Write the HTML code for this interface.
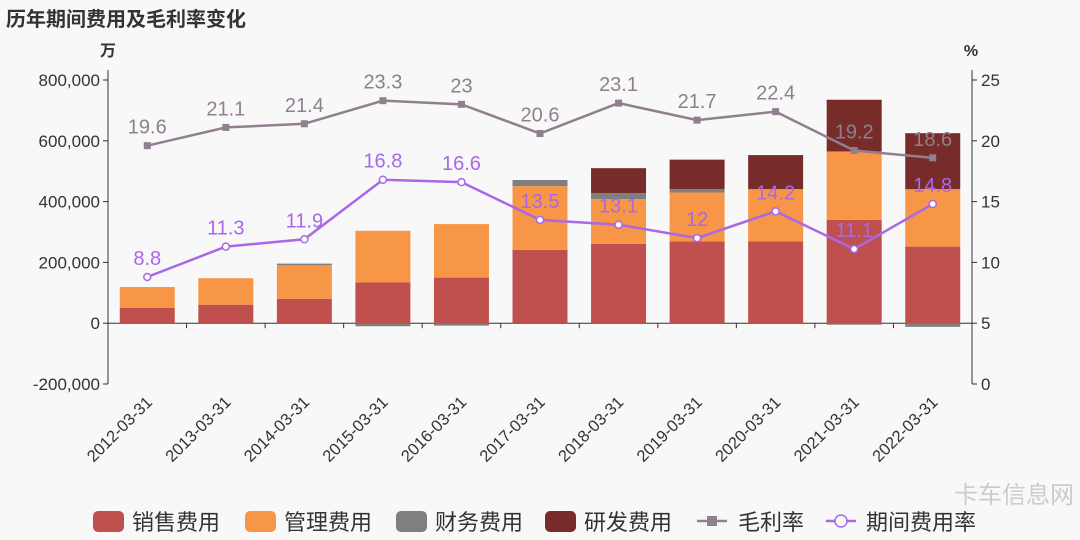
<!DOCTYPE html>
<html><head><meta charset="utf-8"><style>
body{margin:0;background:#f8f8f8}
svg{display:block;font-family:"Liberation Sans","Noto Sans CJK SC",sans-serif}
</style></head><body>
<svg id="c" width="1080" height="540" viewBox="0 0 1080 540">
<rect width="1080" height="540" fill="#f8f8f8"/>
<text x="6" y="26" font-size="20" font-weight="bold" fill="#333">历年期间费用及毛利率变化</text>
<text x="108" y="56" font-size="16" font-weight="bold" fill="#333" text-anchor="middle">万</text>
<text x="971" y="56" font-size="16" font-weight="bold" fill="#333" text-anchor="middle">%</text>
<g id="g"></g>
<text x="1074" y="503" font-size="24" fill="#ccc" text-anchor="end">卡车信息网</text>
</svg>
<script>
const categories=["2012-03-31","2013-03-31","2014-03-31","2015-03-31","2016-03-31","2017-03-31","2018-03-31","2019-03-31","2020-03-31","2021-03-31","2022-03-31"];
const sales=[50000,61000,80000,134000,150000,241000,261000,269000,269000,340000,252000];
const admin=[69000,87000,111000,170000,176000,210000,147000,161000,172000,225000,189000];
const finance=[0,0,5000,-10000,-8000,20000,20000,11000,0,-5000,-12000];
const rd=[0,0,0,0,0,0,82000,97000,112000,170000,184000];
const grossMargin=[19.6,21.1,21.4,23.3,23,20.6,23.1,21.7,22.4,19.2,18.6];
const periodRate=[8.8,11.3,11.9,16.8,16.6,13.5,13.1,12,14.2,11.1,14.8];
const leftTicks=[-200000,0,200000,400000,600000,800000];
const rightTicks=[0,5,10,15,20,25];

const NS="http://www.w3.org/2000/svg",g=document.getElementById('g');
const X0=108,X1=972,Ytop=80,Ybot=384;
const yL=v=>Ybot-(v+200000)/1000000*(Ybot-Ytop);
const yR=v=>Ybot-v/25*(Ybot-Ytop);
const bw=(X1-X0)/categories.length;
const xC=i=>X0+bw*(i+0.5);
function el(t,a,p){const e=document.createElementNS(NS,t);for(const k in a)e.setAttribute(k,a[k]);(p||g).appendChild(e);return e;}
function fmt(v){return v.toLocaleString('en-US');}
let ax=el('line',{x1:X0,x2:X0,y1:Ytop-10,y2:Ybot,stroke:'#333'});


ax=el('line',{x1:X1,x2:X1,y1:Ytop-10,y2:Ybot,stroke:'#333'});


leftTicks.forEach(v=>{
 el('line',{x1:X0-5,x2:X0,y1:yL(v),y2:yL(v),stroke:'#333'});
 const t=el('text',{x:X0-8,y:yL(v)+6,'font-size':17,fill:'#333','text-anchor':'end'});t.textContent=fmt(v);
 
 
});
rightTicks.forEach(v=>{
 el('line',{x1:X1,x2:X1+5,y1:yR(v),y2:yR(v),stroke:'#333'});
 const t=el('text',{x:X1+9,y:yR(v)+6,'font-size':17,fill:'#333'});t.textContent=v;
 
 
});
const z=yL(0);
let xa=el('line',{x1:X0,x2:X1,y1:z,y2:z,stroke:'#333'});


for(let i=0;i<=categories.length;i++)el('line',{x1:X0+bw*i,x2:X0+bw*i,y1:z,y2:z+5,stroke:'#333'});
categories.forEach((c,i)=>{
 const x=xC(i)+6,y=z+80;
 const t=el('text',{x:x,y:y,'font-size':16.5,fill:'#333','text-anchor':'end',transform:`rotate(-45 ${x} ${y})`});t.textContent=c;
 
 
});
const series=[[sales,'#c0504d','sales-bar'],[admin,'#f79646','admin-bar'],[finance,'#7f7f7f','finance-bar'],[rd,'#772c2a','rd-bar']];
const bW=55;
categories.forEach((c,i)=>{
 let pos=0,neg=0;
 series.forEach(([arr,col,nm])=>{
  const v=arr[i];if(!v)return;
  let a,b;
  if(v>0){a=pos;b=pos+v;pos=b;}else{a=neg;b=neg+v;neg=b;}
  const y1=yL(Math.max(a,b)),y2=yL(Math.min(a,b));
  const r=el('rect',{x:xC(i)-bW/2,y:y1,width:bW,height:y2-y1,fill:col});
  
  
 });
});
function line(arr,col,nm,circle){
 const pts=arr.map((v,i)=>[xC(i),yR(v)]);
 const p=el('polyline',{points:pts.map(p=>p.join(',')).join(' '),fill:'none',stroke:col,'stroke-width':2.5});
 
 
 pts.forEach((q,i)=>{
  let m;
  if(circle)m=el('circle',{cx:q[0],cy:q[1],r:3.5,fill:'#fff',stroke:col,'stroke-width':1.5});
  else m=el('rect',{x:q[0]-3.5,y:q[1]-3.5,width:7,height:7,fill:col});
  
  
  const t=el('text',{x:q[0],y:q[1]-12,'font-size':20,fill:col,'text-anchor':'middle'});t.textContent=arr[i];
  
  
 });
}
line(grossMargin,'#8f7f8f','gross-margin',false);
line(periodRate,'#a868e8','period-rate',true);
const lg=[['销售费用','#c0504d',93,'legend-sales'],['管理费用','#f79646',245,'legend-admin'],['财务费用','#7f7f7f',396,'legend-finance'],['研发费用','#772c2a',545,'legend-rd']];
lg.forEach(([t,c,x,n])=>{
 const gg=el('g',{});
 
 
 el('rect',{x:x,y:511,width:31,height:21,rx:5,fill:c},gg);
 const tx=el('text',{x:x+39,y:530,'font-size':22,fill:'#333'},gg);tx.textContent=t;
});
let lgg=el('g',{});


el('line',{x1:697,x2:727,y1:521,y2:521,stroke:'#8f7f8f','stroke-width':2.5},lgg);
el('rect',{x:707,y:516,width:10,height:10,fill:'#8f7f8f'},lgg);
let lt=el('text',{x:738,y:530,'font-size':22,fill:'#333'},lgg);lt.textContent='毛利率';
lgg=el('g',{});


el('line',{x1:826,x2:856,y1:521,y2:521,stroke:'#a868e8','stroke-width':2.5},lgg);
el('circle',{cx:841,cy:521,r:6,fill:'#f8f8f8',stroke:'#a868e8','stroke-width':1.5},lgg);
lt=el('text',{x:866,y:530,'font-size':22,fill:'#333'},lgg);lt.textContent='期间费用率';
</script>
</body></html>
